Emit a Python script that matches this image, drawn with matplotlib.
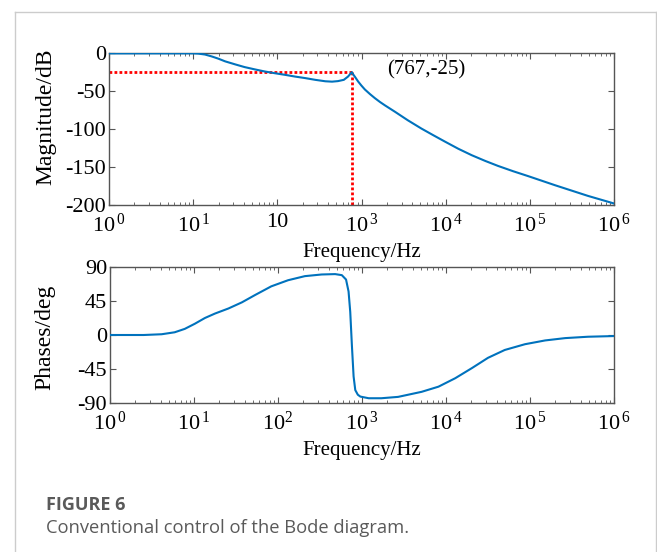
import matplotlib
matplotlib.use("Agg")
import matplotlib.pyplot as plt
import matplotlib.ticker as mticker
from matplotlib.lines import Line2D
import numpy as np

plt.rcParams["font.family"] = ["Liberation Serif", "DejaVu Serif"]
plt.rcParams["mathtext.fontset"] = "custom"
plt.rcParams["mathtext.rm"] = "Liberation Serif"
plt.rcParams["mathtext.it"] = "Liberation Serif:italic"

# magnitude curve: (log10 of Hz, dB)
mag_decade = [0.0, 0.5, 1.0, 1.06, 1.14, 1.22, 1.30, 1.38, 1.50, 1.61, 1.73,
              1.85, 1.97, 2.09, 2.21, 2.33, 2.45, 2.57, 2.65, 2.72, 2.79,
              2.84, 2.885, 2.90, 2.92, 2.96, 3.00, 3.04, 3.10, 3.16, 3.22,
              3.28, 3.40, 3.55, 3.71, 3.85, 3.99, 4.15, 4.31, 4.47, 4.62,
              4.80, 4.98, 5.30, 5.69, 6.0]
mag_db = [-0.5, -0.5, -0.5, -0.8, -2.0, -4.5, -7.5, -11.0, -15.0, -18.5, -21.5,
          -24.3, -26.6, -28.7, -31.0, -33.0, -35.3, -37.2, -37.7, -37.0, -35.3,
          -31.0, -25.2, -28.0, -31.0, -37.5, -43.0, -48.0, -54.0, -59.5, -64.5,
          -69.0, -77.5, -88.5, -99.3, -108.0, -116.5, -126.0, -134.5, -142.0, -148.5,
          -155.5, -162.0, -174.0, -188.0, -198.0]

# phase curve: (log10 of Hz, deg)
ph_decade = [0.0, 0.4, 0.615, 0.77, 0.89, 1.01, 1.13, 1.25, 1.41, 1.57, 1.73,
             1.92, 2.12, 2.32, 2.52, 2.68, 2.76, 2.81, 2.84, 2.86, 2.88, 2.90,
             2.92, 2.95, 2.98, 3.08, 3.23, 3.43, 3.71, 3.91, 4.11, 4.31, 4.50,
             4.70, 4.94, 5.18, 5.42, 5.69, 6.0]
ph_deg = [0.0, 0.0, 1.0, 3.6, 8.1, 14.9, 22.5, 28.4, 35.1, 43.2, 53.1,
          64.4, 72.5, 77.9, 80.1, 80.6, 79.2, 73.4, 57.6, 30.6, -14.4, -54.9,
          -72.9, -79.0, -81.5, -83.7, -83.7, -81.9, -75.2, -68.4, -57.2, -43.7, -30.2,
          -19.8, -12.2, -7.2, -4.1, -2.3, -1.4]

peak_hz = 767
peak_db = -25
peak_label = "(767,-25)"

x_ticks = [1, 10, 100, 1e3, 1e4, 1e5, 1e6]
mag_xticklabels = [r"$10^{\,0}$", r"$10^{\,1}$", "10", r"$10^{\,3}$",
                   r"$10^{\,4}$", r"$10^{\,5}$", r"$10^{\,6}$"]
ph_xticklabels = [r"$10^{\,0}$", r"$10^{\,1}$", r"$10^{2}$", r"$10^{\,3}$",
                  r"$10^{\,4}$", r"$10^{\,5}$", r"$10^{\,6}$"]
mag_yticks = [0, -50, -100, -150, -200]
ph_yticks = [90, 45, 0, -45, -90]

BLUE = "#0072BD"
TICK_FS = 16
LABEL_FS = 17


def style_axes(ax):
    ax.set_xscale("log")
    ax.set_xlim(1, 1e6)
    for s in ax.spines.values():
        s.set_color("#555555")
        s.set_linewidth(1.0)
    ax.tick_params(which="both", direction="in", top=True, right=True,
                   colors="#555555", labelcolor="black", labelsize=TICK_FS)
    ax.tick_params(which="major", length=4, width=0.8)
    ax.tick_params(which="minor", length=2.5, width=0.6)
    ax.tick_params(axis="x", pad=6)
    ax.tick_params(axis="y", pad=2)
    ax.xaxis.set_minor_locator(mticker.LogLocator(base=10, subs=np.arange(2, 10), numticks=20))
    ax.xaxis.set_minor_formatter(mticker.NullFormatter())


fig = plt.figure(figsize=(6.57, 5.52), dpi=100)

# top: magnitude
ax1 = fig.add_axes([109 / 657, 1 - 205 / 552, 505 / 657, 152 / 552])
style_axes(ax1)
ax1.plot(10 ** np.array(mag_decade), mag_db, color=BLUE, lw=1.5, zorder=3)
ax1.set_ylim(-200, 0)
ax1.plot([1, peak_hz], [peak_db, peak_db], color="#FF0000", lw=2.0,
         linestyle=(0, (1.0, 0.8)), zorder=2, clip_on=False)
ax1.plot([peak_hz, peak_hz], [peak_db, -200], color="#FF0000", lw=2.0,
         linestyle=(0, (1.0, 0.8)), zorder=2, clip_on=False)
ax1.text(10 ** 3.77, -22, peak_label, fontsize=15, ha="center", va="center")
ax1.set_xticks(x_ticks)
ax1.set_xticklabels(mag_xticklabels)
ax1.set_yticks(mag_yticks)
ax1.set_yticklabels([str(v) for v in mag_yticks])
ax1.set_xlabel("Frequency/Hz", fontsize=15, labelpad=5)
ax1.set_ylabel("Magnitude/dB", fontsize=LABEL_FS)
ax1.yaxis.set_label_coords(-0.104, 0.58)

# bottom: phase
ax2 = fig.add_axes([110 / 657, 1 - 403 / 552, 504 / 657, 136 / 552])
style_axes(ax2)
ax2.plot(10 ** np.array(ph_decade), ph_deg, color=BLUE, lw=1.5, zorder=3)
ax2.set_ylim(-90, 90)
ax2.set_xticks(x_ticks)
ax2.set_xticklabels(ph_xticklabels)
ax2.set_yticks(ph_yticks)
ax2.set_yticklabels([str(v) for v in ph_yticks])
ax2.set_xlabel("Frequency/Hz", fontsize=15, labelpad=5)
ax2.set_ylabel("Phases/deg", fontsize=LABEL_FS)
ax2.yaxis.set_label_coords(-0.108, 0.485)

# light frame around the figure panel, open at the bottom
frame_kw = dict(color="#CCCCCC", lw=1.0, transform=fig.transFigure, clip_on=False)
fx0, fx1, fy = 14.5 / 657, 655.5 / 657, 1 - 11.5 / 552
fig.add_artist(Line2D([fx0, fx0], [0, fy], **frame_kw))
fig.add_artist(Line2D([fx0, fx1], [fy, fy], **frame_kw))
fig.add_artist(Line2D([fx1, fx1], [fy, 0], **frame_kw))

# caption
fig.text(46 / 657, 1 - 505 / 552, "FIGURE 6", family="Open Sans", weight="bold",
         fontsize=13, color="#5a5a5a", va="center", ha="left")
fig.text(46 / 657, 1 - 528 / 552, "Conventional control of the Bode diagram.",
         family="Open Sans", fontsize=13.2, color="#5a5a5a", va="center", ha="left")

fig.savefig("out.png", dpi=100)
